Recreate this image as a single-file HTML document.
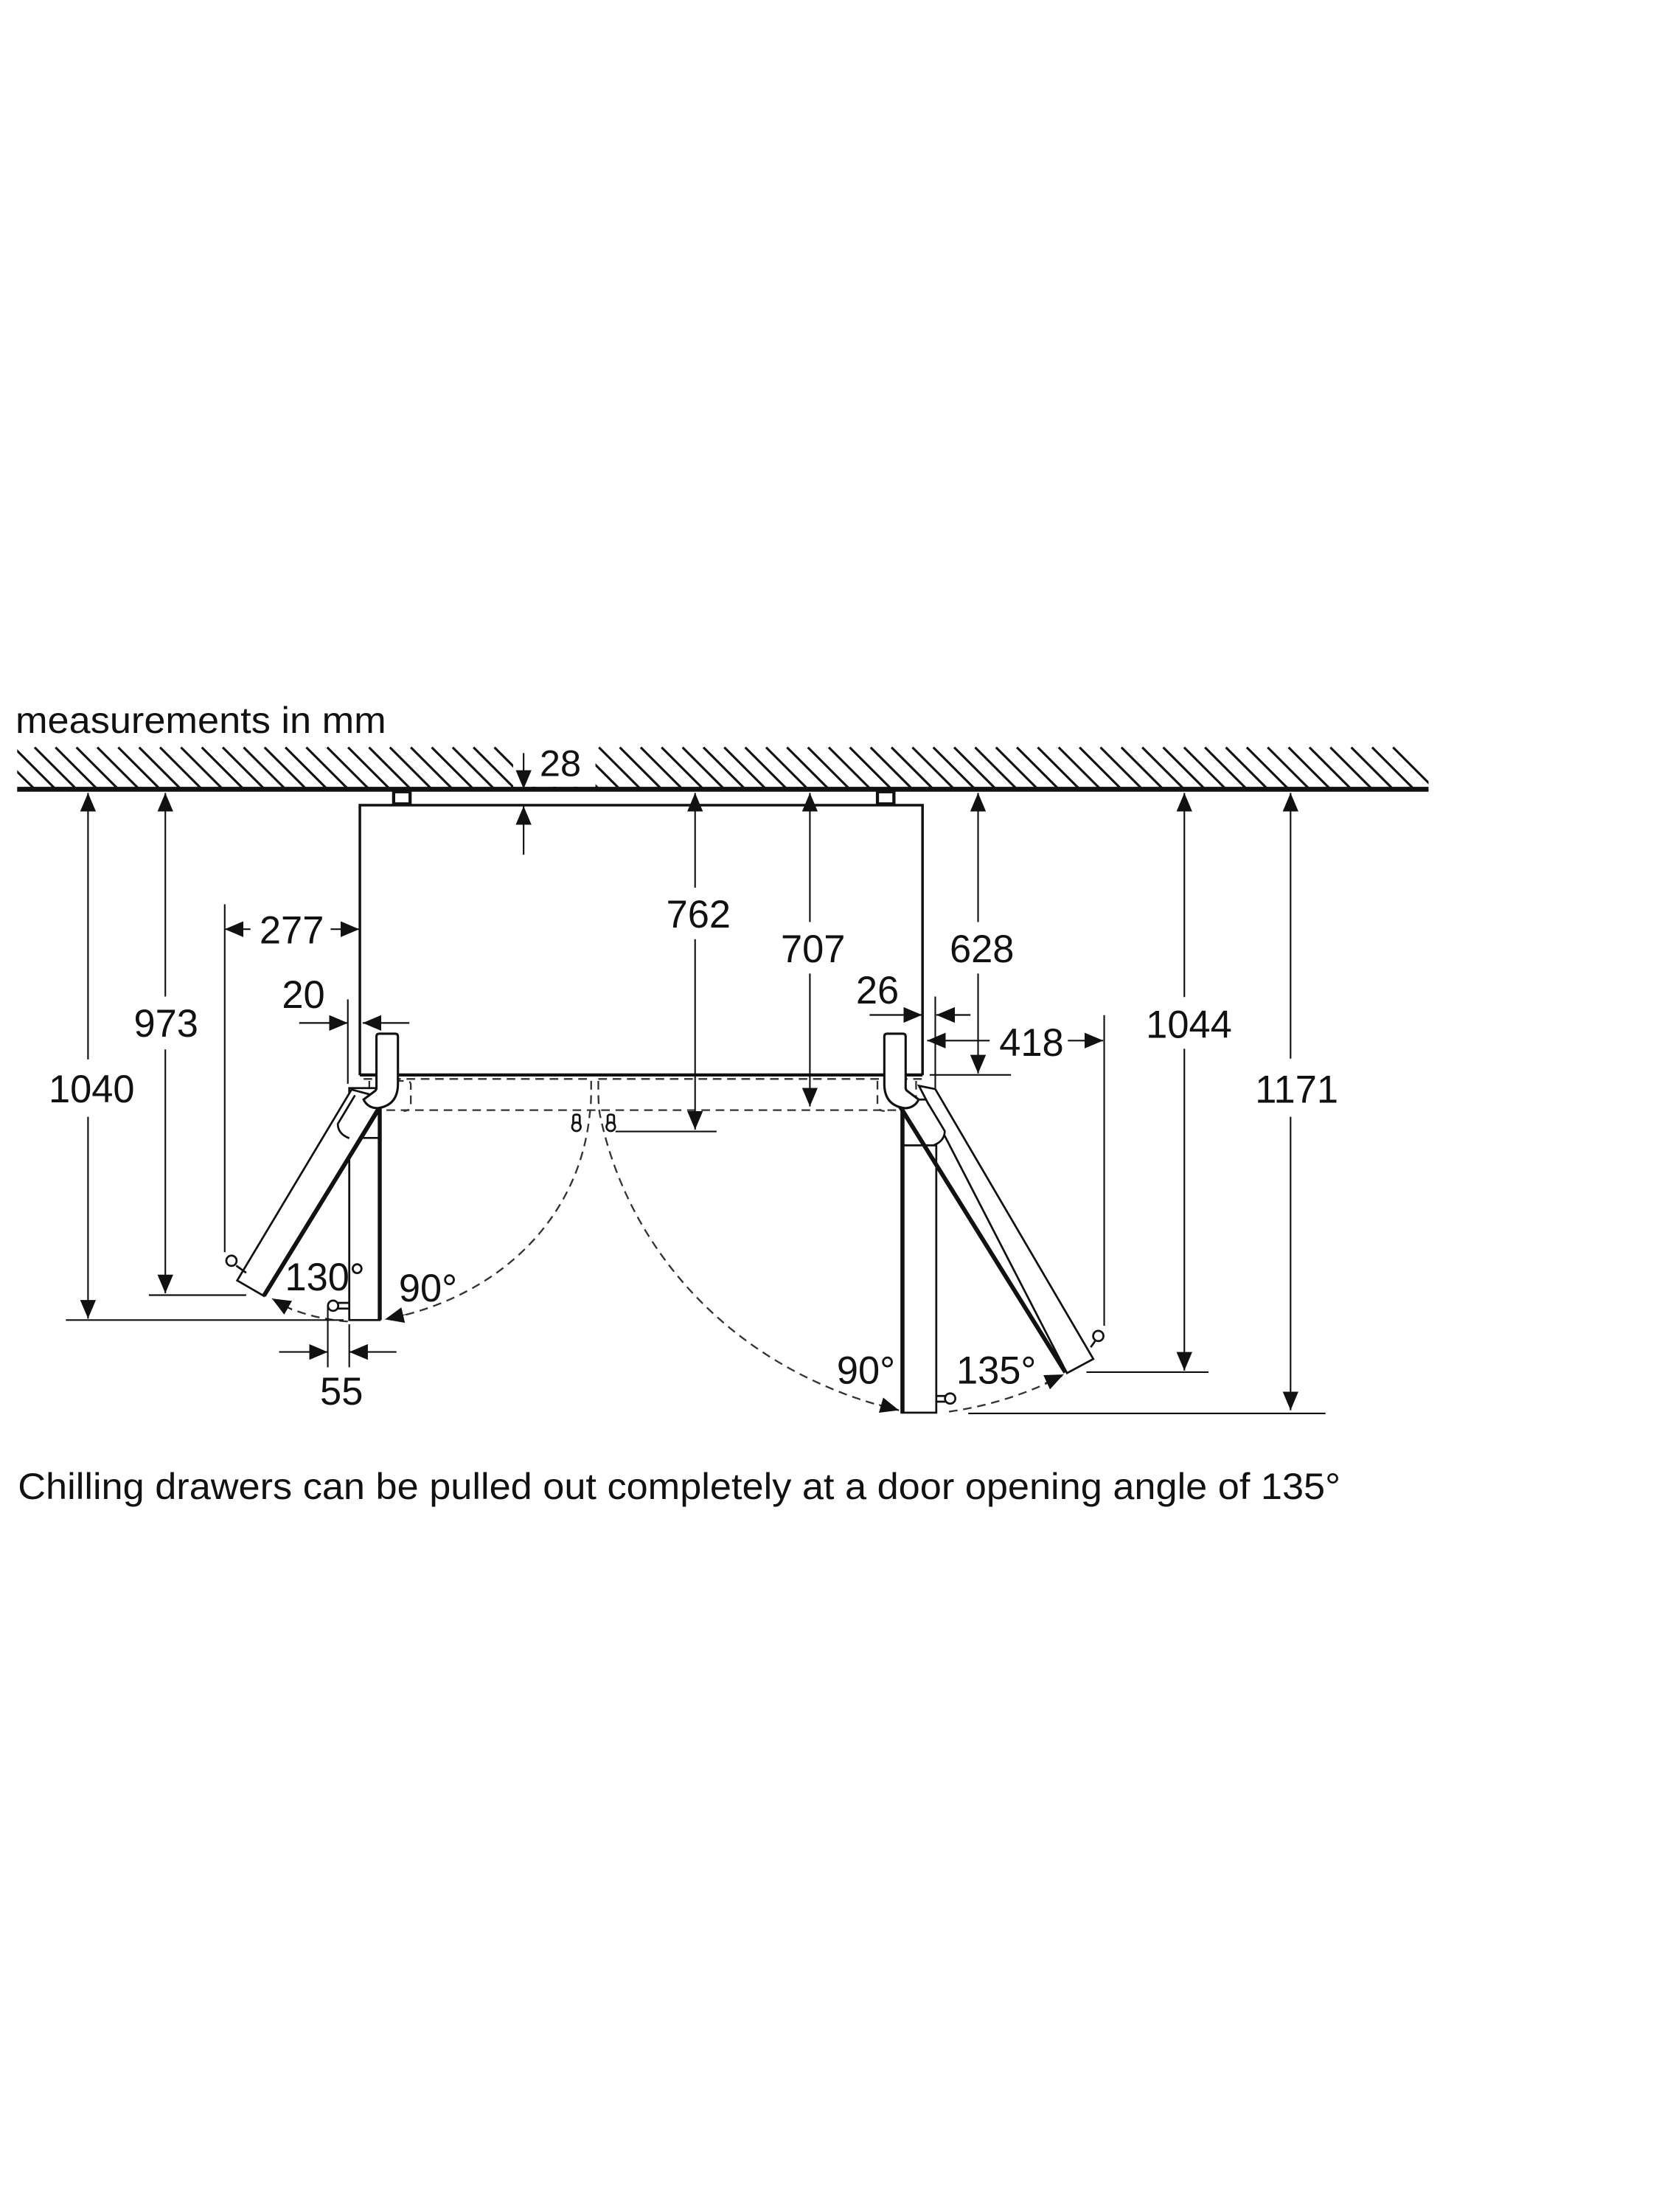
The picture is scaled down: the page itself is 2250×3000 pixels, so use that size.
<!DOCTYPE html>
<html><head><meta charset="utf-8"><style>
html,body{margin:0;padding:0;background:#fff;}
svg{display:block;}
text{font-family:"Liberation Sans",sans-serif;fill:#111;}
</style></head><body>
<svg width="2250" height="3000" viewBox="0 0 1159 1545" preserveAspectRatio="none" xmlns="http://www.w3.org/2000/svg">
<defs>
<marker id="a" viewBox="0 0 13 11" refX="13" refY="5.5" markerWidth="13" markerHeight="11" markerUnits="userSpaceOnUse" orient="auto"><path d="M0,0 L13,5.5 L0,11 z" fill="#111"/></marker>
<clipPath id="hc"><rect x="12" y="520" width="986" height="32"/></clipPath>
</defs>
<rect width="1159" height="1545" fill="#fff"/>

<text x="10.8" y="512" font-size="26" textLength="259" lengthAdjust="spacingAndGlyphs">measurements in mm</text>

<!-- hatch -->
<g clip-path="url(#hc)" stroke="#111" stroke-width="1.6">
<path id="hatch" d="
M-5,522 l29,29 M9.6,522 l29,29 M24.2,522 l29,29 M38.8,522 l29,29 M53.4,522 l29,29 M68,522 l29,29 M82.6,522 l29,29 M97.2,522 l29,29 M111.8,522 l29,29 M126.4,522 l29,29
M141,522 l29,29 M155.6,522 l29,29 M170.2,522 l29,29 M184.8,522 l29,29 M199.4,522 l29,29 M214,522 l29,29 M228.6,522 l29,29 M243.2,522 l29,29 M257.8,522 l29,29 M272.4,522 l29,29
M287,522 l29,29 M301.6,522 l29,29 M316.2,522 l29,29 M330.8,522 l29,29 M345.4,522 l29,29 M360,522 l29,29 M374.6,522 l29,29 M389.2,522 l29,29 M403.8,522 l29,29 M418.4,522 l29,29
M433,522 l29,29 M447.6,522 l29,29 M462.2,522 l29,29 M476.8,522 l29,29 M491.4,522 l29,29 M506,522 l29,29 M520.6,522 l29,29 M535.2,522 l29,29 M549.8,522 l29,29 M564.4,522 l29,29
M579,522 l29,29 M593.6,522 l29,29 M608.2,522 l29,29 M622.8,522 l29,29 M637.4,522 l29,29 M652,522 l29,29 M666.6,522 l29,29 M681.2,522 l29,29 M695.8,522 l29,29 M710.4,522 l29,29
M725,522 l29,29 M739.6,522 l29,29 M754.2,522 l29,29 M768.8,522 l29,29 M783.4,522 l29,29 M798,522 l29,29 M812.6,522 l29,29 M827.2,522 l29,29 M841.8,522 l29,29 M856.4,522 l29,29
M871,522 l29,29 M885.6,522 l29,29 M900.2,522 l29,29 M914.8,522 l29,29 M929.4,522 l29,29 M944,522 l29,29 M958.6,522 l29,29 M973.2,522 l29,29" fill="none"/>
</g>
<rect x="358.5" y="515" width="57.5" height="34.5" fill="#fff"/>
<line x1="12" y1="551.3" x2="998" y2="551.3" stroke="#111" stroke-width="3.4"/>

<!-- 28 -->
<line x1="365.8" y1="526" x2="365.8" y2="551" stroke="#111" stroke-width="1.1" marker-end="url(#a)"/>
<line x1="365.8" y1="597" x2="365.8" y2="563" stroke="#111" stroke-width="1.1" marker-end="url(#a)"/>
<text x="377" y="542" font-size="26">28</text>

<!-- brackets -->
<rect x="275" y="553" width="11.5" height="8.5" fill="#fff" stroke="#111" stroke-width="2.2"/>
<rect x="613" y="553" width="11.5" height="8.5" fill="#fff" stroke="#111" stroke-width="2.2"/>

<!-- cabinet -->
<path d="M251.4,751 L251.4,562.4 L644.5,562.4 L644.5,751" fill="none" stroke="#111" stroke-width="1.8"/>
<line x1="251.4" y1="750.8" x2="644.5" y2="750.8" stroke="#111" stroke-width="2.2"/>

<!-- dashed drawers -->
<g fill="none" stroke="#333" stroke-width="1.2" stroke-dasharray="6,4">
<line x1="254" y1="753.6" x2="413" y2="753.6"/>
<line x1="418" y1="753.6" x2="644" y2="753.6"/>
<line x1="250" y1="775.4" x2="646" y2="775.4"/>
<path d="M258,755 L258,770 Q258,775 263,775"/>
<path d="M276,755 L284,755 Q287,755 287,758 L287,771 Q287,776 282,776"/>
<path d="M613,755 L613,771 Q613,776 618,776"/>
<path d="M640,755 L640,775"/>
<path d="M413,755 C413,765 413,772 412,778 C405,850 350,905 272,921"/>
<path d="M418,755 C418,765 418,772 419,778 C440,880 520,960 628,985"/>
<path d="M243,923 Q215,921 192,909"/>
<path d="M663,986 Q705,980 742,961"/>
</g>
<!-- arc arrowheads -->
<line x1="284" y1="918" x2="269" y2="921.5" stroke="#111" stroke-width="0.5" marker-end="url(#a)"/>
<line x1="204" y1="915" x2="190" y2="907" stroke="#111" stroke-width="0.5" marker-end="url(#a)"/>
<line x1="614" y1="981" x2="628" y2="985" stroke="#111" stroke-width="0.5" marker-end="url(#a)"/>
<line x1="730" y1="966" x2="743" y2="960" stroke="#111" stroke-width="0.5" marker-end="url(#a)"/>

<!-- middle handles -->
<g fill="#fff" stroke="#111" stroke-width="1.4">
<path d="M400.5,789 L400.5,780 Q400.5,778.5 402.7,778.5 Q405,778.5 405,780 L405,789"/>
<circle cx="402.7" cy="787" r="3"/>
<path d="M424.5,789 L424.5,780 Q424.5,778.5 426.7,778.5 Q429,778.5 429,780 L429,789"/>
<circle cx="426.7" cy="787" r="3"/>
</g>

<!-- LEFT doors -->
<g fill="#fff" stroke="#111" stroke-width="1.4">
<rect x="244" y="760" width="21.3" height="162"/>
<line x1="244" y1="794.8" x2="265" y2="794.8"/>
<polygon points="245.6,761 268,767 184.4,905.2 165.7,894.4"/>
<path d="M248,765 L236,785 Q236,792 244,795"/>
</g>
<line x1="265.3" y1="760" x2="265.3" y2="922" stroke="#111" stroke-width="2.8"/>
<line x1="184.4" y1="905" x2="268" y2="769" stroke="#111" stroke-width="3"/>
<path d="M263,760 L263,724 Q263,722 265,722 L276,722 Q278,722 278,724 L278,757 Q278,772 264,774 Q257,774 254,768 L262,762 Q263,761 263,760 Z" fill="#fff" stroke="#111" stroke-width="1.6"/>
<g fill="#fff" stroke="#111" stroke-width="1.4">
<path d="M165,884 L172,889"/>
<circle cx="161.7" cy="880.6" r="3.6"/>
<path d="M236,910 L244,910 M236,914 L244,914"/>
<circle cx="232.7" cy="912" r="3.6"/>
</g>

<!-- RIGHT doors -->
<g fill="#fff" stroke="#111" stroke-width="1.4">
<rect x="629.8" y="768" width="24.3" height="218.7"/>
<line x1="630" y1="800" x2="654" y2="800"/>
<polygon points="642,758.4 653.4,760.7 763.8,949.2 745.4,959.1"/>
<path d="M648,770 L660,790 Q660,797 652,800"/>
</g>
<line x1="630.5" y1="768" x2="630.5" y2="986.7" stroke="#111" stroke-width="2.8"/>
<line x1="627" y1="770" x2="744.3" y2="958.5" stroke="#111" stroke-width="3"/>
<path d="M632.7,760 L632.7,724 Q632.7,722 630.7,722 L619.8,722 Q617.8,722 617.8,724 L617.8,757 Q617.8,772 631.8,774 Q638.8,774 641.8,768 L633.8,762 Q632.7,761 632.7,760 Z" fill="#fff" stroke="#111" stroke-width="1.6"/>
<g fill="#fff" stroke="#111" stroke-width="1.4">
<path d="M762,941 L767,934"/>
<circle cx="767.3" cy="933.1" r="3.6"/>
<path d="M654,975 L661,975 M654,979 L661,979"/>
<circle cx="663.8" cy="976.8" r="3.6"/>
</g>

<!-- vertical dims -->
<g stroke="#111" stroke-width="1.1" fill="none">
<line x1="61.5" y1="740" x2="61.5" y2="553.8" marker-end="url(#a)"/>
<line x1="61.5" y1="780" x2="61.5" y2="921" marker-end="url(#a)"/>
<line x1="115.5" y1="696" x2="115.5" y2="553.8" marker-end="url(#a)"/>
<line x1="115.5" y1="733" x2="115.5" y2="903.3" marker-end="url(#a)"/>
<line x1="485.6" y1="620" x2="485.6" y2="553.8" marker-end="url(#a)"/>
<line x1="485.6" y1="656" x2="485.6" y2="789" marker-end="url(#a)"/>
<line x1="565.8" y1="644" x2="565.8" y2="553.8" marker-end="url(#a)"/>
<line x1="565.8" y1="680" x2="565.8" y2="772.8" marker-end="url(#a)"/>
<line x1="683.3" y1="644" x2="683.3" y2="553.8" marker-end="url(#a)"/>
<line x1="683.3" y1="680" x2="683.3" y2="749.8" marker-end="url(#a)"/>
<line x1="827.4" y1="696.4" x2="827.4" y2="553.8" marker-end="url(#a)"/>
<line x1="827.4" y1="732.5" x2="827.4" y2="957.3" marker-end="url(#a)"/>
<line x1="901.6" y1="739.4" x2="901.6" y2="553.8" marker-end="url(#a)"/>
<line x1="901.6" y1="780" x2="901.6" y2="985" marker-end="url(#a)"/>

<!-- horizontal dims -->
<line x1="175" y1="649" x2="157" y2="649" marker-end="url(#a)"/>
<line x1="231" y1="649" x2="251" y2="649" marker-end="url(#a)"/>
<line x1="209" y1="714.5" x2="243" y2="714.5" marker-end="url(#a)"/>
<line x1="286" y1="714.5" x2="253.4" y2="714.5" marker-end="url(#a)"/>
<line x1="607.5" y1="708.9" x2="644.2" y2="708.9" marker-end="url(#a)"/>
<line x1="678" y1="708.9" x2="654.1" y2="708.9" marker-end="url(#a)"/>
<line x1="691.4" y1="726.8" x2="647.7" y2="726.8" marker-end="url(#a)"/>
<line x1="746" y1="726.8" x2="770.7" y2="726.8" marker-end="url(#a)"/>
<line x1="195" y1="944.3" x2="229" y2="944.3" marker-end="url(#a)"/>
<line x1="277" y1="944.3" x2="244" y2="944.3" marker-end="url(#a)"/>

<!-- extension lines -->
<line x1="46" y1="922" x2="240" y2="922"/>
<line x1="104" y1="904.6" x2="172" y2="904.6"/>
<line x1="157" y1="631.6" x2="157" y2="874.6"/>
<line x1="243" y1="698" x2="243" y2="757"/>
<line x1="229" y1="912" x2="229" y2="955"/>
<line x1="244" y1="925" x2="244" y2="955"/>
<line x1="430" y1="790.3" x2="500.6" y2="790.3"/>
<line x1="653.4" y1="696" x2="653.4" y2="760"/>
<line x1="649.5" y1="750.8" x2="706.3" y2="750.8"/>
<line x1="771.4" y1="709" x2="771.4" y2="926"/>
<line x1="759" y1="958.4" x2="844.3" y2="958.4"/>
<line x1="676.4" y1="987.2" x2="926" y2="987.2"/>
</g>

<!-- labels -->
<g font-size="27" text-anchor="middle">
<text x="64" y="770">1040</text>
<text x="116" y="724">973</text>
<text x="203.8" y="659">277</text>
<text x="212" y="704">20</text>
<text x="488" y="648">762</text>
<text x="568" y="672">707</text>
<text x="686" y="672">628</text>
<text x="613" y="701">26</text>
<text x="720.6" y="737.6">418</text>
<text x="830.6" y="724.8">1044</text>
<text x="905.9" y="770.3">1171</text>
<text x="238.6" y="981">55</text>
<text x="227" y="901.3">130°</text>
<text x="299" y="909">90°</text>
<text x="605" y="966.5">90°</text>
<text x="696" y="966.5">135°</text>
</g>

<text x="12.5" y="1047" font-size="26" textLength="924" lengthAdjust="spacingAndGlyphs">Chilling drawers can be pulled out completely at a door opening angle of 135°</text>
</svg>
</body></html>
